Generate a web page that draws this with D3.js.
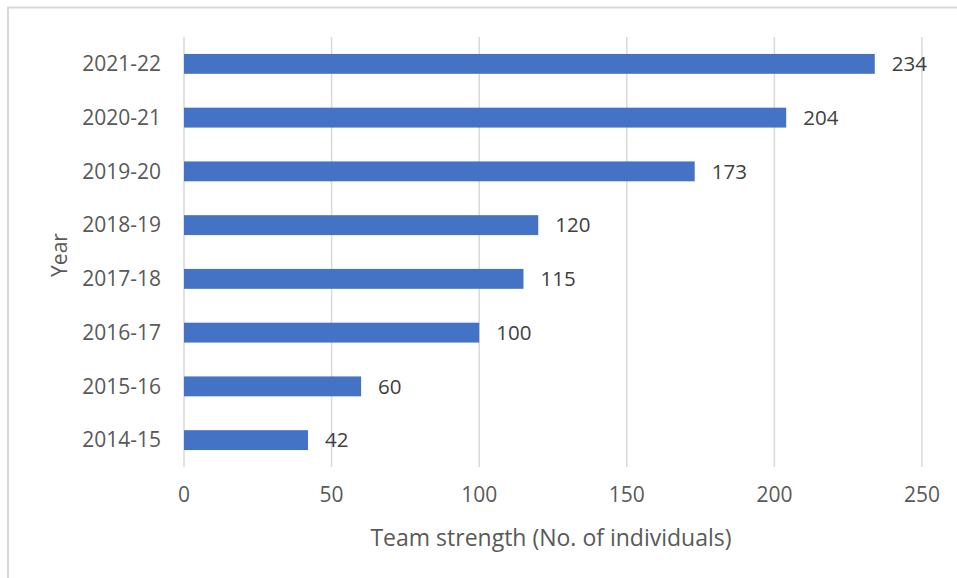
<!DOCTYPE html>
<html><head><meta charset="utf-8">
<script src="https://cdn.jsdelivr.net/npm/d3@7"></script>
<style>body{margin:0;background:#fff;}svg{display:block;}</style>
</head><body>
<svg id="c" width="957" height="578"></svg>
<script>
const years = ["2014-15","2015-16","2016-17","2017-18","2018-19","2019-20","2020-21","2021-22"];
const strength = [42,60,100,115,120,173,204,234];
const xTicks = [0,50,100,150,200,250];
const xTitle = "Team strength (No. of individuals)";
const yTitle = "Year";

const svg = d3.select("#c");
const font = "'Open Sans', sans-serif";
const txt = "#595959";
const pL = 184, pR = 922, pT = 37, pB = 467;

// frame
svg.append("rect").attr("x",8).attr("y",7.5).attr("width",1000).attr("height",1000)
  .attr("fill","none").attr("stroke","#d9d9d9").attr("stroke-width",2);

const x = d3.scaleLinear().domain([0,250]).range([pL,pR]);
const y = d3.scaleBand().domain(years.slice().reverse()).range([pT,pB]).paddingInner(0.63).paddingOuter(0.315);

// gridlines
svg.append("g").selectAll("line").data(xTicks).join("line")
  .attr("x1",d=>x(d)).attr("x2",d=>x(d)).attr("y1",pT).attr("y2",pB)
  .attr("stroke","#d9d9d9").attr("stroke-width",1.5);

// bars
svg.append("g").selectAll("rect").data(years).join("rect")
  .attr("x",x(0)).attr("y",(d)=>y(d))
  .attr("width",(d,i)=>x(strength[i])-x(0)).attr("height",y.bandwidth())
  .attr("fill","#4472C4");

// data labels
svg.append("g").selectAll("text").data(years).join("text")
  .attr("x",(d,i)=>x(strength[i])+17).attr("y",d=>y(d)+y.bandwidth()/2)
  .attr("dy","0.35em").attr("font-family",font).attr("font-size",20.5).attr("fill","#404040")
  .text((d,i)=>strength[i]);

// y tick labels
svg.append("g").selectAll("text").data(years).join("text")
  .attr("x",pL-23).attr("y",d=>y(d)+y.bandwidth()/2).attr("dy","0.35em")
  .attr("text-anchor","end").attr("font-family",font).attr("font-size",21).attr("fill",txt)
  .text(d=>d);

// x tick labels
svg.append("g").selectAll("text").data(xTicks).join("text")
  .attr("x",d=>x(d)).attr("y",495).attr("dy","0.35em")
  .attr("text-anchor","middle").attr("font-family",font).attr("font-size",21).attr("fill",txt)
  .text(d=>d);

// titles
svg.append("text").attr("x",551).attr("y",538).attr("dy","0.35em").attr("text-anchor","middle")
  .attr("font-family",font).attr("font-size",23).attr("fill",txt).text(xTitle);
svg.append("text").attr("transform","translate(60,255) rotate(-90)").attr("dy","0.35em").attr("text-anchor","middle")
  .attr("font-family",font).attr("font-size",21).attr("fill",txt).text(yTitle);
</script>
</body></html>
